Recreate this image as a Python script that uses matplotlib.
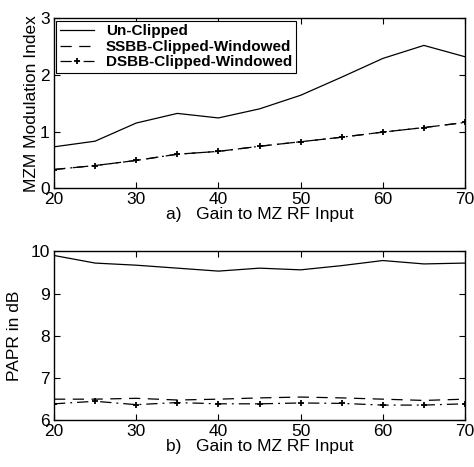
import matplotlib
matplotlib.use('Agg')
import matplotlib.pyplot as plt

# gain values (x axis)
gain = [20, 25, 30, 35, 40, 45, 50, 55, 60, 65, 70]

# a) MZM modulation index
mi_unclipped = [0.73, 0.83, 1.15, 1.32, 1.24, 1.40, 1.64, 1.96, 2.29, 2.52, 2.32]
mi_ssbb = [0.33, 0.40, 0.49, 0.60, 0.65, 0.74, 0.82, 0.90, 0.99, 1.07, 1.16]
mi_dsbb = [0.33, 0.40, 0.49, 0.60, 0.65, 0.74, 0.82, 0.90, 0.99, 1.07, 1.16]

# b) PAPR in dB
papr_unclipped = [9.90, 9.72, 9.67, 9.60, 9.53, 9.60, 9.56, 9.66, 9.78, 9.70, 9.72]
papr_ssbb = [6.50, 6.50, 6.52, 6.48, 6.50, 6.53, 6.55, 6.53, 6.50, 6.47, 6.50]
papr_dsbb = [6.39, 6.45, 6.37, 6.42, 6.39, 6.39, 6.41, 6.40, 6.36, 6.36, 6.39]

labels = ['Un-Clipped', 'SSBB-Clipped-Windowed', 'DSBB-Clipped-Windowed']

plt.rcParams['font.family'] = ['Liberation Sans', 'DejaVu Sans']
plt.rcParams['font.size'] = 12.5

fig = plt.figure(figsize=(4.74, 4.67), dpi=100)
ax1 = fig.add_axes([0.114, 0.597, 0.867, 0.364])
ax2 = fig.add_axes([0.114, 0.100, 0.867, 0.362])

ax1.plot(gain, mi_unclipped, color='k', lw=0.9, label=labels[0])
ax1.plot(gain, mi_ssbb, color='k', lw=0.9, ls=(0, (9, 6)), label=labels[1])
ax1.plot(gain, mi_dsbb, color='k', lw=0.9, ls=(0, (9, 4, 1.5, 4)), marker='+',
         ms=5, mew=1.3, label=labels[2])

ax2.plot(gain, papr_unclipped, color='k', lw=0.9)
ax2.plot(gain, papr_ssbb, color='k', lw=0.9, ls=(0, (9, 6)))
ax2.plot(gain, papr_dsbb, color='k', lw=0.9, ls=(0, (9, 4, 1.5, 4)), marker='+',
         ms=5, mew=1.3)

ax1.set_xlim(20, 70)
ax1.set_ylim(0, 3)
ax1.set_yticks([0, 1, 2, 3])
ax2.set_xlim(20, 70)
ax2.set_ylim(6, 10)
ax2.set_yticks([6, 7, 8, 9, 10])

for ax in (ax1, ax2):
    ax.set_xticks([20, 30, 40, 50, 60, 70])
    ax.tick_params(direction='in', top=True, right=True, length=4, pad=2.5,
                   labelsize=12.5)
    ax.tick_params(axis='y', pad=3)
    for sp in ax.spines.values():
        sp.set_linewidth(1.0)

ax1.set_ylabel('MZM Modulation Index', labelpad=1)
ax1.set_xlabel('a)   Gain to MZ RF Input', labelpad=0)
ax2.set_ylabel('PAPR in dB', labelpad=6)
ax2.set_xlabel('b)   Gain to MZ RF Input', labelpad=0)

leg = ax1.legend(loc='upper left', prop={'weight': 'bold', 'size': 11},
                 handlelength=2.2, borderaxespad=0.15, labelspacing=0.1,
                 fancybox=False, framealpha=1, edgecolor='k', borderpad=0.25)
leg.get_frame().set_linewidth(0.8)

fig.savefig('out.png', dpi=100)
